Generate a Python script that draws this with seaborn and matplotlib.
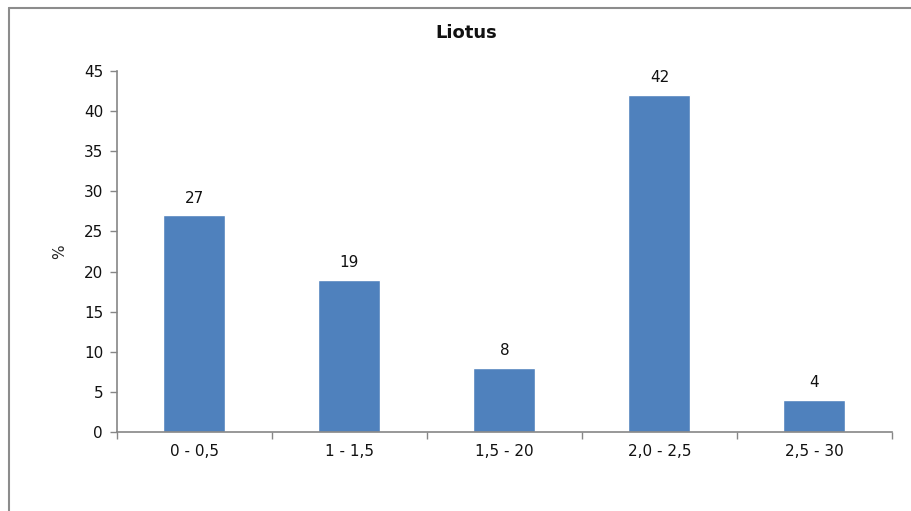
import matplotlib
matplotlib.use("Agg")
import matplotlib.pyplot as plt
from matplotlib.lines import Line2D
from matplotlib.ticker import FixedLocator, NullFormatter
import seaborn as sns
import pandas as pd

# Share of items per length class (%)
categories = ["0 - 0,5", "1 - 1,5", "1,5 - 20", "2,0 - 2,5", "2,5 - 30"]
values = [27, 19, 8, 42, 4]
y_ticks = [0, 5, 10, 15, 20, 25, 30, 35, 40, 45]

sns.set_theme(style="white")
plt.rcParams["font.family"] = ["DejaVu Sans"]
plt.rcParams["text.color"] = "#111111"
plt.rcParams["xtick.color"] = "#111111"
plt.rcParams["ytick.color"] = "#111111"

df = pd.DataFrame({"luokka": categories, "osuus": values})

fig = plt.figure(figsize=(9.11, 5.11), dpi=100)
ax = fig.add_axes([0.1284, 0.1546, 0.8507, 0.7065])

sns.barplot(data=df, x="luokka", y="osuus", order=categories,
            color="#4F81BD", saturation=1, width=0.4, ax=ax)

axis_col = "#868686"
ax.set_ylim(0, 45)
ax.set_xlim(-0.5, len(categories) - 0.5)
ax.set_yticks(y_ticks)
ax.tick_params(axis="y", direction="out", length=5, color=axis_col,
               width=1, labelsize=11, pad=5, left=True, labelcolor="#111111")
ax.tick_params(axis="x", which="major", length=0, labelsize=11, pad=9,
               labelcolor="#111111")
ax.xaxis.set_minor_locator(FixedLocator([i - 0.5 for i in range(len(categories) + 1)]))
ax.xaxis.set_minor_formatter(NullFormatter())
ax.tick_params(axis="x", which="minor", direction="out", length=5,
               color=axis_col, width=1, bottom=True)

for side in ["top", "right"]:
    ax.spines[side].set_visible(False)
for side in ["left", "bottom"]:
    ax.spines[side].set_color(axis_col)
    ax.spines[side].set_linewidth(1.2)

ax.set_xlabel("")
ax.set_ylabel("%", fontsize=11, labelpad=12)

# chart title, centred over the whole chart area
fig.text(466 / 911, 1 - 33 / 511, "Liotus", fontsize=13, fontweight="bold",
         ha="center", va="center")

for cont in ax.containers:
    ax.bar_label(cont, labels=[str(v) for v in values], padding=7, fontsize=11)

# outer chart frame (left and top edges)
fig.add_artist(Line2D([9 / 911, 9 / 911], [0, 1 - 8 / 511],
                      transform=fig.transFigure, color="#8c8c8c", lw=1.5))
fig.add_artist(Line2D([9 / 911, 1], [1 - 8 / 511, 1 - 8 / 511],
                      transform=fig.transFigure, color="#8c8c8c", lw=1.5))

fig.savefig("out.png", dpi=100)
